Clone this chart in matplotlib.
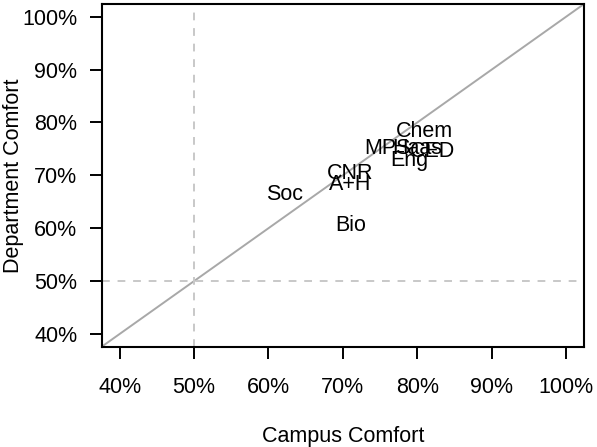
import matplotlib
matplotlib.use("Agg")
import matplotlib.pyplot as plt
from matplotlib.ticker import FuncFormatter

plt.rcParams["font.family"] = ["Liberation Sans", "DejaVu Sans"]

# comfort by college: campus-wide vs within department
colleges = ["Chem", "MPS", "Haas", "CED", "Eng", "CNR", "A+H", "Bio", "Soc"]
campus_comfort = [0.810, 0.760, 0.800, 0.820, 0.789, 0.710, 0.710, 0.710, 0.621]
dept_comfort = [0.787, 0.755, 0.755, 0.749, 0.732, 0.709, 0.687, 0.610, 0.668]

ticks = [0.4, 0.5, 0.6, 0.7, 0.8, 0.9, 1.0]

fig = plt.figure(figsize=(5.97, 4.47), dpi=100)
ax = fig.add_axes([0.1704, 0.2244, 0.8078, 0.7666])

lo, hi = 0.4, 1.0
pad = 0.04 * (hi - lo)
ax.set_xlim(lo - pad, hi + pad)
ax.set_ylim(lo - pad, hi + pad)

# parity line and 50% reference lines
ax.plot([0, 1.1], [0, 1.1], color="#a8a8a8", lw=1.4, zorder=1)
ax.axvline(0.5, color="#c8c8c8", lw=1.4, ls=(0, (4, 4)), zorder=1)
ax.axhline(0.5, color="#c8c8c8", lw=1.4, ls=(0, (4, 4)), zorder=1)

for name, x, y in zip(colleges, campus_comfort, dept_comfort):
    ax.text(x, y, name, ha="center", va="center_baseline", fontsize=15.5, zorder=2)

pct = FuncFormatter(lambda v, _: f"{v * 100:.0f}%")
ax.set_xticks(ticks)
ax.set_yticks(ticks)
ax.xaxis.set_major_formatter(pct)
ax.yaxis.set_major_formatter(pct)
ax.tick_params(axis="both", length=8.6, width=1.4, labelsize=15.5)
ax.tick_params(axis="x", pad=13.0)
ax.tick_params(axis="y", pad=9.0)
for s in ax.spines.values():
    s.set_linewidth(1.5)

ax.set_xlabel("Campus Comfort", fontsize=15.5, va="center")
ax.xaxis.set_label_coords(0.5, -0.2635)
ax.set_ylabel("Department Comfort", fontsize=15.5, va="center")
ax.yaxis.set_label_coords(-0.182, 0.5)

fig.savefig("out.png", dpi=100)
